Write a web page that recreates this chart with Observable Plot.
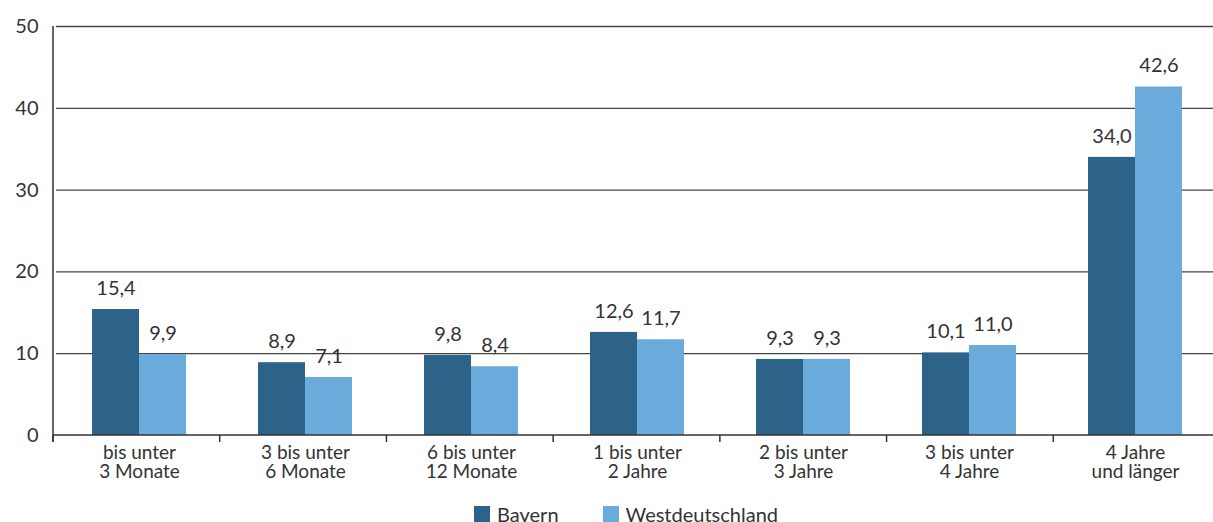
<!DOCTYPE html>
<html>
<head>
<meta charset="utf-8">
<script src="https://cdn.jsdelivr.net/npm/d3@7"></script>
<script src="https://cdn.jsdelivr.net/npm/@observablehq/plot@0.6"></script>
<style>
  html, body { margin: 0; padding: 0; background: #fff; }
  body { width: 1213px; height: 522px; overflow: hidden; font-family: Lato, "Open Sans", sans-serif; color: #333; }
  #legend { display: flex; align-items: center; font-size: 20px; margin-left: 474px; margin-top: 9px; line-height: 20px; }
  #legend .sw { width: 16px; height: 16px; display: inline-block; margin-right: 7px; }
  #legend .item { display: flex; align-items: center; margin-right: 44px; }
</style>
</head>
<body>
<div id="chart"></div>
<div id="legend"></div>
<script>
// Dauer der Arbeitslosigkeit (Anteile in %)
const categories = [
  "bis unter\n3 Monate",
  "3 bis unter\n6 Monate",
  "6 bis unter\n12 Monate",
  "1 bis unter\n2 Jahre",
  "2 bis unter\n3 Jahre",
  "3 bis unter\n4 Jahre",
  "4 Jahre\nund länger"
];
const series = ["Bavern", "Westdeutschland"];
const bavern = [15.4, 8.9, 9.8, 12.6, 9.3, 10.1, 34.0];
const westdeutschland = [9.9, 7.1, 8.4, 11.7, 9.3, 11.0, 42.6];
const yTicks = [0, 10, 20, 30, 40, 50];
const colors = ["#2d6289", "#6aabdb"];

const data = categories.flatMap((c, i) => [
  {category: c, series: series[0], value: bavern[i]},
  {category: c, series: series[1], value: westdeutschland[i]}
]);
const fmt = v => v.toFixed(1).replace(".", ",");

const left = 53, right = 1220;
const step = (right - left) / categories.length;
const boundaries = d3.range(categories.length).map(i => left + i * step);

const chart = Plot.plot({
  width: 1213,
  height: 495,
  marginTop: 26,
  marginBottom: 60,
  marginLeft: 53,
  marginRight: 0,
  style: {fontFamily: "Lato, 'Open Sans', sans-serif", fontSize: "19px", color: "#333"},
  fx: {domain: categories, range: [left, right], padding: 0, label: null, axis: null},
  x: {domain: series, paddingInner: 0, paddingOuter: 0.74, axis: null},
  y: {domain: [0, 50], ticks: yTicks, label: null, axis: null},
  color: {domain: series, range: colors},
  marks: [
    Plot.ruleY(yTicks.filter(t => t > 0), {stroke: "#444", strokeWidth: 1.3}),
    Plot.barY(data, {fx: "category", x: "series", y: "value", fill: "series", inset: 0}),
    Plot.text(data, {fx: "category", x: "series", y: "value", text: d => fmt(d.value), dy: -21, fontSize: 20, fill: "#333"}),
    Plot.axisY({ticks: yTicks, tickSize: 0, tickPadding: 18, fontSize: 20, facetAnchor: "left", fill: "#333"}),
    Plot.axisFx({anchor: "bottom", tickSize: 0, tickPadding: 10, fontSize: 19, lineHeight: 1.0, fill: "#333"})
  ]
});
document.getElementById("chart").append(chart);

// Frame lines and group separators, drawn in pixel space on top of the plot
const svg = d3.select(chart);
const y = chart.scale("y");
const y0 = y.apply(0), y50 = y.apply(50);
svg.append("line").attr("x1", left).attr("x2", left).attr("y1", y50).attr("y2", y0 + 7)
  .attr("stroke", "#333").attr("stroke-width", 1.5);
svg.append("line").attr("x1", left).attr("x2", 1213).attr("y1", y0).attr("y2", y0)
  .attr("stroke", "#333").attr("stroke-width", 1.5);
boundaries.forEach(b => {
  svg.append("line").attr("x1", b).attr("x2", b).attr("y1", y0).attr("y2", y0 + 7)
    .attr("stroke", "#333").attr("stroke-width", 1.5);
});

const legend = document.getElementById("legend");
series.forEach((s, i) => {
  const item = document.createElement("span");
  item.className = "item";
  item.innerHTML = `<span class="sw" style="background:${colors[i]}"></span>${s}`;
  legend.append(item);
});
</script>
</body>
</html>
